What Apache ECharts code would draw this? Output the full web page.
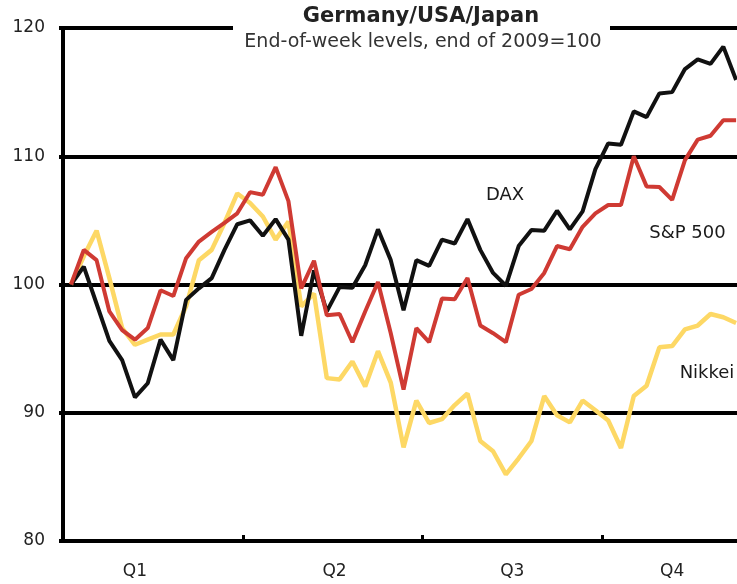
<!DOCTYPE html>
<html>
<head>
<meta charset="utf-8">
<script src="https://cdn.jsdelivr.net/npm/echarts@6/dist/echarts.min.js"></script>
<style>
html,body{margin:0;padding:0;background:#fff;}
#main{width:737px;height:584px;}
</style>
</head>
<body>
<div id="main"></div>
<script>
// weekly closes, end of 2009 = 100 (53 weeks)
var dax = [100, 101.4, 98.5, 95.6, 94.1, 91.2, 92.3, 95.7, 94.1, 98.8, 99.7, 100.5, 102.7, 104.7,
	105.0, 103.8, 105.1, 103.5, 96.0, 101.1, 97.9, 99.8, 99.75, 101.5, 104.3, 101.9, 98.0,
	101.9, 101.45, 103.5, 103.2, 105.1, 102.7, 100.9, 99.9, 103.0, 104.25, 104.2, 105.75,
	104.3, 105.7, 109.0, 111.0, 110.9, 113.5, 113.05, 114.9, 115.0, 116.8, 117.55, 117.2, 118.55, 115.95];
var sp500 = [100, 102.7, 101.9, 97.9, 96.45, 95.7, 96.6, 99.55, 99.1, 102.05, 103.35, 104.1, 104.8, 105.55,
	107.2, 107.0, 109.15, 106.5, 99.7, 101.85, 97.6, 97.7, 95.5, 97.9, 100.2, 96.2, 91.8,
	96.6, 95.5, 98.9, 98.85, 100.5, 96.8, 96.2, 95.5, 99.2, 99.65, 100.9, 103.0,
	102.75, 104.5, 105.55, 106.2, 106.2, 110.0, 107.65, 107.6, 106.6, 109.7, 111.3, 111.6, 112.8, 112.8];
var nikkei = [100, 102.2, 104.2, 100.5, 96.6, 95.3, 95.7, 96.1, 96.1, 98.3, 101.9, 102.7, 104.8, 107.1,
	106.35, 105.3, 103.5, 104.9, 98.3, 99.3, 92.7, 92.6, 94.0, 92.05, 94.8, 92.35, 87.3,
	90.95, 89.2, 89.5, 90.6, 91.5, 87.8, 87.0, 85.2, 86.45, 87.8, 91.3, 89.8,
	89.25, 90.95, 90.2, 89.4, 87.25, 91.3, 92.1, 95.1, 95.2, 96.5, 96.8, 97.7, 97.45, 97.0];

// quarter axis (in week units)
var quarterNames = ['Q1', 'Q2', 'Q3', 'Q4'];
var quarterLabelAt = [5.0, 20.6, 34.5, 47.0];
var quarterTickAt = [13.45, 27.5, 41.5];

var FONT = 'DejaVu Sans';

function toPairs(arr){
	var out = [];
	for (var i = 0; i < arr.length; i++) {
		out.push([i, arr[i]]);
	}
	return out;
}
function lineSeries(name, data, color, width){
	return {
		name: name,
		type: 'line',
		data: toPairs(data),
		showSymbol: false,
		lineStyle: {color: color, width: width},
		itemStyle: {color: color}
	};
}
function label(text, x, y){
	return {
		type: 'text', z: 100,
		style: {text: text, x: x, y: y, textAlign: 'center', textVerticalAlign: 'middle',
			fontFamily: FONT, fontSize: 18, fill: '#1a1a1a'}
	};
}

var myChart = echarts.init(document.getElementById('main'));
var option = {
	animation: false,
	backgroundColor: '#fff',
	grid: {left: 63, right: 0, top: 28, bottom: 43},
	xAxis: {
		type: 'value',
		min: -0.625,
		max: 52.07,
		axisLine: {show: true, onZero: false, lineStyle: {color: '#000', width: 4}},
		axisTick: {show: true, inside: false, length: -6, customValues: quarterTickAt,
			lineStyle: {color: '#000', width: 3}},
		axisLabel: {
			customValues: quarterLabelAt,
			margin: 22,
			fontFamily: FONT, fontSize: 17, color: '#222',
			formatter: function (v) {
				for (var i = 0; i < quarterLabelAt.length; i++) {
					if (Math.abs(quarterLabelAt[i] - v) < 0.01) return quarterNames[i];
				}
				return '';
			}
		},
		splitLine: {show: false}
	},
	yAxis: {
		type: 'value',
		min: 80,
		max: 120,
		interval: 10,
		axisLine: {show: true, onZero: false, lineStyle: {color: '#000', width: 4}},
		axisTick: {show: true, length: 4, lineStyle: {color: '#000', width: 4}},
		axisLabel: {margin: 18, fontFamily: FONT, fontSize: 17, color: '#222'},
		splitLine: {show: true, lineStyle: {color: '#000', width: 4}}
	},
	graphic: [
		// white box behind the title breaks the 120 gridline
		{type: 'rect', z: 99, shape: {x: 233, y: 14, width: 377, height: 28}, style: {fill: '#fff'}},
		{type: 'text', z: 100, style: {text: 'Germany/USA/Japan', x: 421, y: 16.5, textAlign: 'center',
			textVerticalAlign: 'middle', fontFamily: FONT, fontWeight: 'bold', fontSize: 21, fill: '#222'}},
		{type: 'text', z: 100, style: {text: 'End-of-week levels, end of 2009=100', x: 423, y: 42.5,
			textAlign: 'center', textVerticalAlign: 'middle', fontFamily: FONT, fontSize: 19, fill: '#333'}},
		label('DAX', 505, 195),
		label('S&P 500', 687.5, 233.5),
		label('Nikkei', 707, 373)
	],
	series: [
		lineSeries('Nikkei', nikkei, '#fdd865', 4.5),
		lineSeries('DAX', dax, '#111111', 4),
		lineSeries('S&P 500', sp500, '#cf3a33', 4)
	]
};
myChart.setOption(option);
</script>
</body>
</html>
